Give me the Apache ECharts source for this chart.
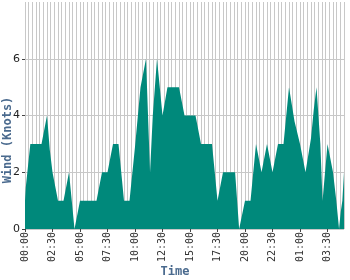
<!DOCTYPE html>
<html>
<head>
<meta charset="utf-8">
<script src="https://cdn.jsdelivr.net/npm/echarts@6/dist/echarts.min.js"></script>
<style>
html,body{margin:0;padding:0;background:#fff;}
#c{width:350px;height:280px;}
</style>
</head>
<body>
<div id="c"></div>
<script>
// minutes since 00:00 of the first day
const timeMinutes = [0, 4, 29, 90, 120, 135, 150, 180, 210, 240, 270, 300, 390, 420, 450, 480, 510, 540, 570,
  600, 630, 660, 682, 686, 697, 720, 750, 777, 840, 870, 930, 960, 1020, 1050, 1080, 1146, 1168, 1200, 1230,
  1260, 1290, 1320, 1350, 1380, 1410, 1440, 1470, 1500, 1530, 1560, 1575, 1590, 1611, 1623, 1650, 1680,
  1698, 1713, 1722, 1731, 1740];
const windKnots = [1, 1.45, 3, 3, 4, 2.8, 2, 1, 1, 2, 0, 1, 1, 2, 2, 3, 3, 1, 1,
  2.9, 5, 6, 2, 2, 4, 6, 4, 5, 5, 4, 4, 3, 3, 1, 2, 2, 0, 1, 1,
  3, 2, 3, 2, 3, 3, 5, 3.8, 3, 2, 3.2, 4.2, 5, 3, 1, 3, 2,
  1, 0, 0.6, 1, 2];
const tickMinutes = [0, 150, 300, 450, 600, 750, 900, 1050, 1200, 1350, 1500, 1650];
const tickLabels = ['00:00', '02:30', '05:00', '07:30', '10:00', '12:30', '15:00', '17:30', '20:00', '22:30', '01:00', '03:30'];
const yTicks = [0, 2, 4, 6];

const chart = echarts.init(document.getElementById('c'), null, {renderer: 'canvas'});
const grey = '#c8c8c8';
const titleStyle = {fontFamily: 'DejaVu Sans Mono', fontWeight: 'bold', fontSize: 12, color: '#4a6a8e'};
chart.setOption({
  animation: false,
  grid: {left: 25, right: 6, top: 2, bottom: 51, containLabel: false, outerBoundsMode: 'none'},
  xAxis: [
    {
      type: 'value', min: 0, max: 1740, interval: 20, position: 'top',
      axisLine: {show: false}, axisTick: {show: false}, axisLabel: {show: false},
      splitLine: {show: true, lineStyle: {color: grey, width: 1}}
    },
    {
      type: 'value', min: 0, max: 1740, interval: 150, position: 'bottom',
      axisLine: {show: false},
      axisTick: {show: true, length: 3, customValues: tickMinutes, lineStyle: {color: '#444'}},
      splitLine: {show: false},
      axisLabel: {
        customValues: tickMinutes,
        rotate: 90, margin: 3, fontFamily: 'DejaVu Sans Mono', fontSize: 10, color: '#333',
        formatter: v => { const i = tickMinutes.indexOf(v); return i >= 0 ? tickLabels[i] : ''; }
      },
      name: 'Time', nameLocation: 'middle', nameGap: 37, nameMoveOverlap: false,
      nameTextStyle: Object.assign({padding: [0, 19, 0, 0]}, titleStyle)
    }
  ],
  yAxis: {
    type: 'value', min: 0, max: 8, interval: 2,
    axisLine: {show: false},
    axisTick: {show: true, length: 3, lineStyle: {color: '#444'}},
    axisLabel: {showMaxLabel: false, margin: 5, fontFamily: 'DejaVu Sans', fontSize: 11, color: '#222',
      formatter: v => (yTicks.indexOf(v) >= 0 ? String(v) : '')},
    splitLine: {show: true, lineStyle: {color: [grey, grey, grey, grey, 'rgba(0,0,0,0)'], width: 1}},
    name: 'Wind (Knots)', nameLocation: 'middle', nameGap: 11.5, nameMoveOverlap: false,
    nameTextStyle: Object.assign({padding: [0, 49, 0, 0]}, titleStyle)
  },
  series: [{
    type: 'line', xAxisIndex: 1,
    data: timeMinutes.map((t, i) => [t, windKnots[i]]),
    showSymbol: false, symbol: 'none',
    lineStyle: {width: 0, color: '#00897b'},
    areaStyle: {color: '#00897b', opacity: 1},
    itemStyle: {color: '#00897b'}
  }]
});
</script>
</body>
</html>
